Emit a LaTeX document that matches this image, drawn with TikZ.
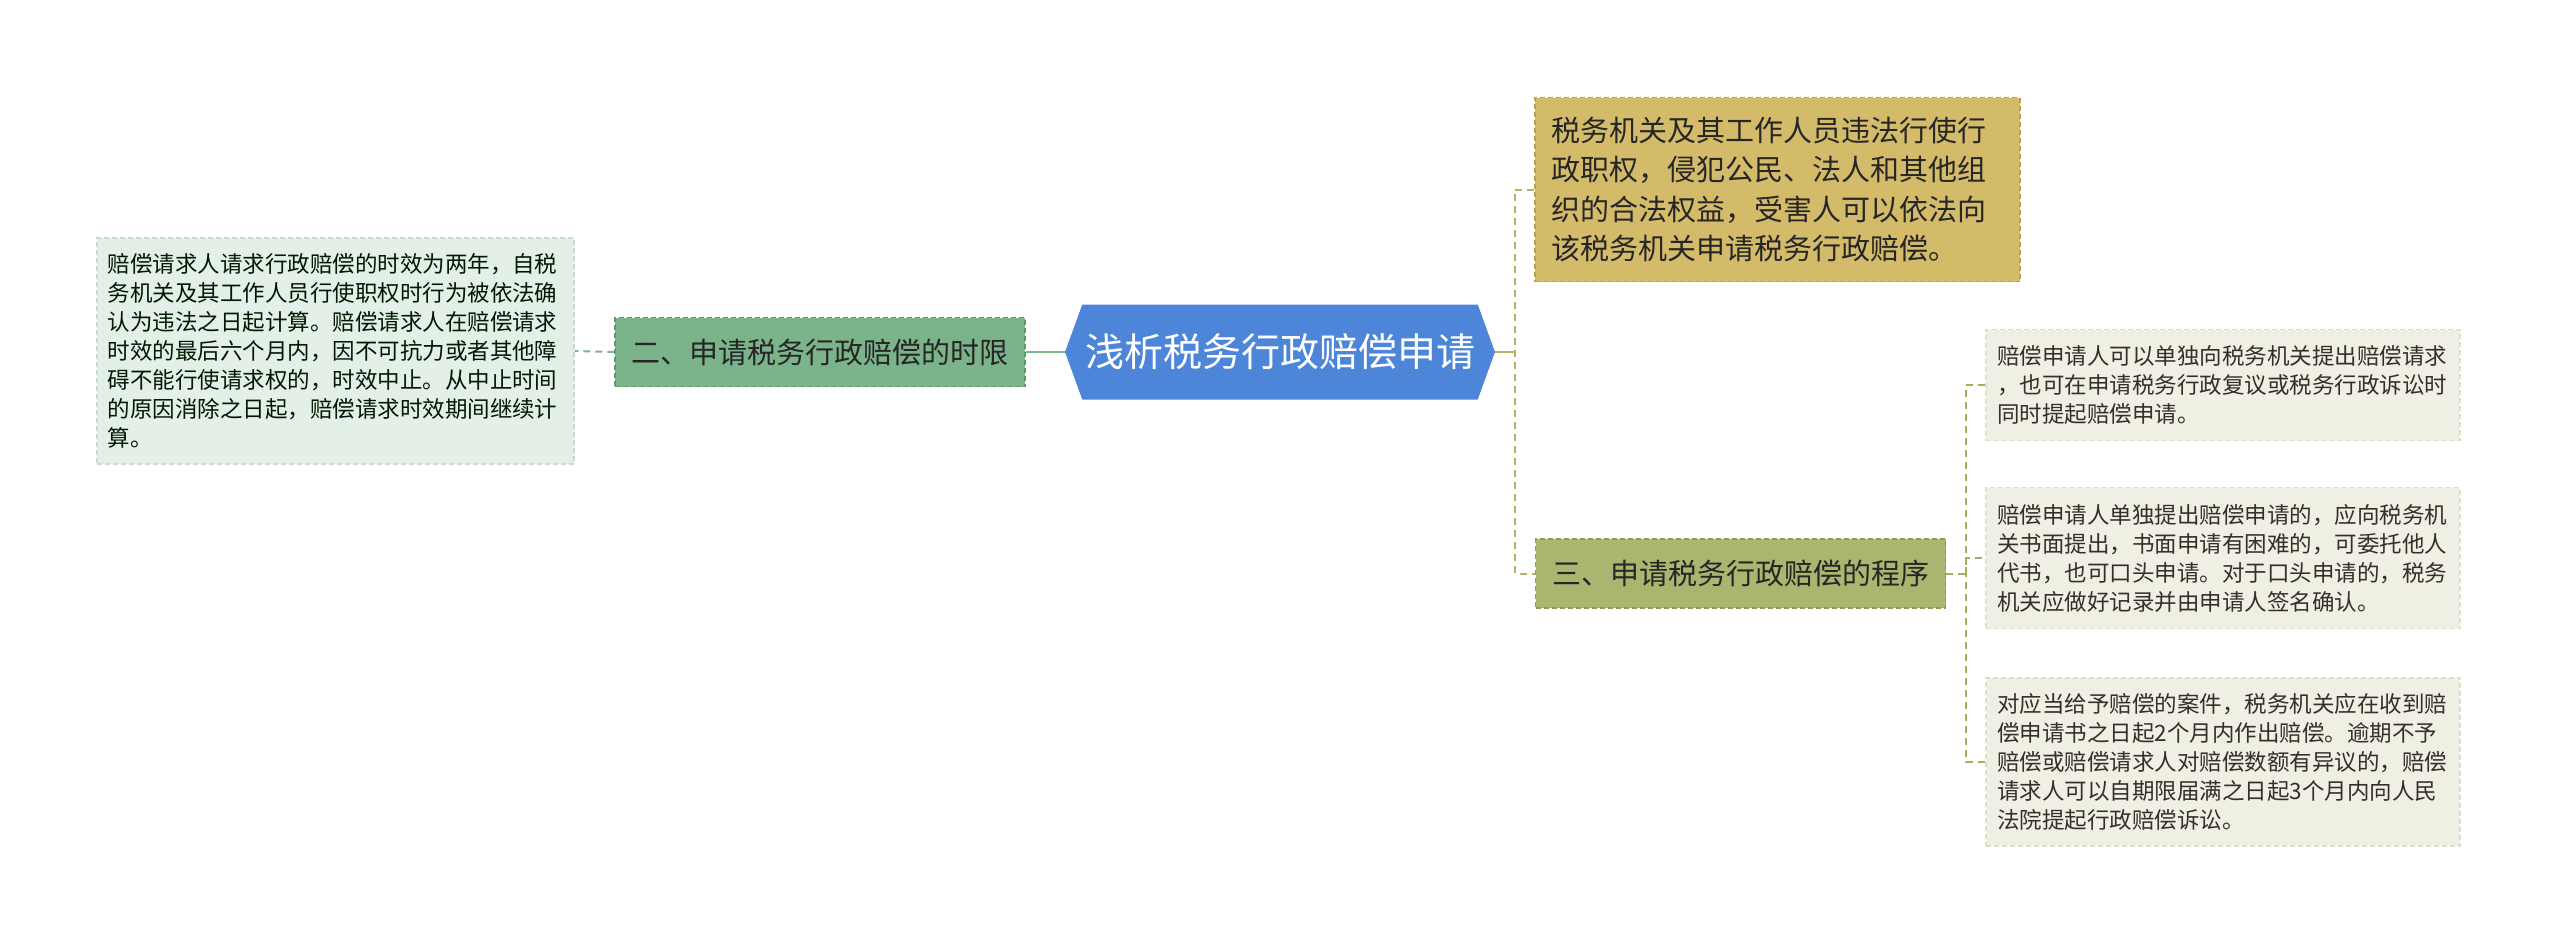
\documentclass[tikz,border=0pt]{standalone}
\usepackage{fontspec}
\setmainfont{Noto Sans CJK SC}
\usetikzlibrary{shapes.symbols}

\definecolor{rootblue}{HTML}{4D86D9}
\definecolor{limitfill}{HTML}{7BB38B}
\definecolor{limitline}{HTML}{5C9A6E}
\definecolor{limitleaf}{HTML}{E4EFE8}
\definecolor{limitleafline}{HTML}{C8DCCD}
\definecolor{goldfill}{HTML}{D4BB6A}
\definecolor{goldline}{HTML}{B9A050}
\definecolor{procfill}{HTML}{ABB56F}
\definecolor{procline}{HTML}{8F9A50}
\definecolor{procleaf}{HTML}{EFEFE4}
\definecolor{procleafline}{HTML}{DEDECC}
\definecolor{greenlink}{HTML}{7DB58E}
\definecolor{olivelink}{HTML}{B8B06A}
\definecolor{sublink}{HTML}{A2B05E}

\begin{document}
\begin{tikzpicture}[x=1pt,y=-1pt,
  rootbox/.style={shape=signal, signal to=west and east, signal pointer angle=140,
    fill=rootblue, text=white, inner sep=0pt, minimum width=430pt, minimum height=95pt,
    font=\fontsize{39}{45}\selectfont},
  branchbox/.style={draw, dash pattern=on 5pt off 3pt, line width=1.3pt, inner sep=0pt,
    minimum width=410pt, minimum height=69pt, text=black!85, font=\fontsize{29}{34}\selectfont},
  leafbox/.style={draw, dash pattern=on 5pt off 3pt, line width=1.3pt, align=left,
    inner ysep=0pt, font=\fontsize{22.5}{29}\selectfont},
  link/.style={line width=2pt},
  dashlink/.style={line width=2pt, dash pattern=on 7pt off 5pt}]

\useasboundingbox (0,0) rectangle (2560,943);

\node[rootbox] (root) at (1280,352) {浅析税务行政赔偿申请};

% left side
\node[branchbox, fill=limitfill, draw=limitline] (limit) at (820,352) {二、申请税务行政赔偿的时限};
\node[leafbox, fill=limitleaf, draw=limitleafline, text=black!75!green!40!black,
  text width=456pt, inner xsep=10.5pt, minimum height=226pt] (limitnote) at (335.5,351)
  {赔偿请求人请求行政赔偿的时效为两年，自税\\
   务机关及其工作人员行使职权时行为被依法确\\
   认为违法之日起计算。赔偿请求人在赔偿请求\\
   时效的最后六个月内，因不可抗力或者其他障\\
   碍不能行使请求权的，时效中止。从中止时间\\
   的原因消除之日起，赔偿请求时效期间继续计\\
   算。};

% right side
\node[leafbox, fill=goldfill, draw=goldline, text=black!85, text width=453pt, inner xsep=16pt,
  minimum height=184pt, font=\fontsize{29}{39.5}\selectfont] (scope) at (1777.5,189.5)
  {税务机关及其工作人员违法行使行\\
   政职权，侵犯公民、法人和其他组\\
   织的合法权益，受害人可以依法向\\
   该税务机关申请税务行政赔偿。};
\node[branchbox, fill=procfill, draw=procline] (proc) at (1740.5,573.5) {三、申请税务行政赔偿的程序};

\node[leafbox, fill=procleaf, draw=procleafline, text=black!70!olive!50!black,
  text width=452pt, inner xsep=11pt, minimum height=111pt] (procA) at (2223,385)
  {赔偿申请人可以单独向税务机关提出赔偿请求\\
   ，也可在申请税务行政复议或税务行政诉讼时\\
   同时提起赔偿申请。};
\node[leafbox, fill=procleaf, draw=procleafline, text=black!70!olive!50!black,
  text width=452pt, inner xsep=11pt, minimum height=141pt] (procB) at (2223,558)
  {赔偿申请人单独提出赔偿申请的，应向税务机\\
   关书面提出，书面申请有困难的，可委托他人\\
   代书，也可口头申请。对于口头申请的，税务\\
   机关应做好记录并由申请人签名确认。};
\node[leafbox, fill=procleaf, draw=procleafline, text=black!70!olive!50!black,
  text width=452pt, inner xsep=11pt, minimum height=168pt] (procC) at (2223,762)
  {对应当给予赔偿的案件，税务机关应在收到赔\\
   偿申请书之日起2个月内作出赔偿。逾期不予\\
   赔偿或赔偿请求人对赔偿数额有异议的，赔偿\\
   请求人可以自期限届满之日起3个月内向人民\\
   法院提起行政赔偿诉讼。};

% connectors
\coordinate (rootjoint) at (1515,352);
\coordinate (procjoint) at (1966,573.5);

\draw[link, greenlink] (root.west) -- (limit.east);
\draw[dashlink, greenlink] (limit.west) -- (limitnote.east);

\draw[link, olivelink] (root.east) -- (rootjoint);
\draw[dashlink, olivelink] (scope.west) -| (rootjoint) |- (proc.west);

\draw[dashlink, sublink] (proc.east) -- (procjoint);
\draw[dashlink, sublink] (procA.west) -| (procjoint) |- (procC.west);
\draw[dashlink, sublink] (procjoint) |- (procB.west);

\end{tikzpicture}
\end{document}
